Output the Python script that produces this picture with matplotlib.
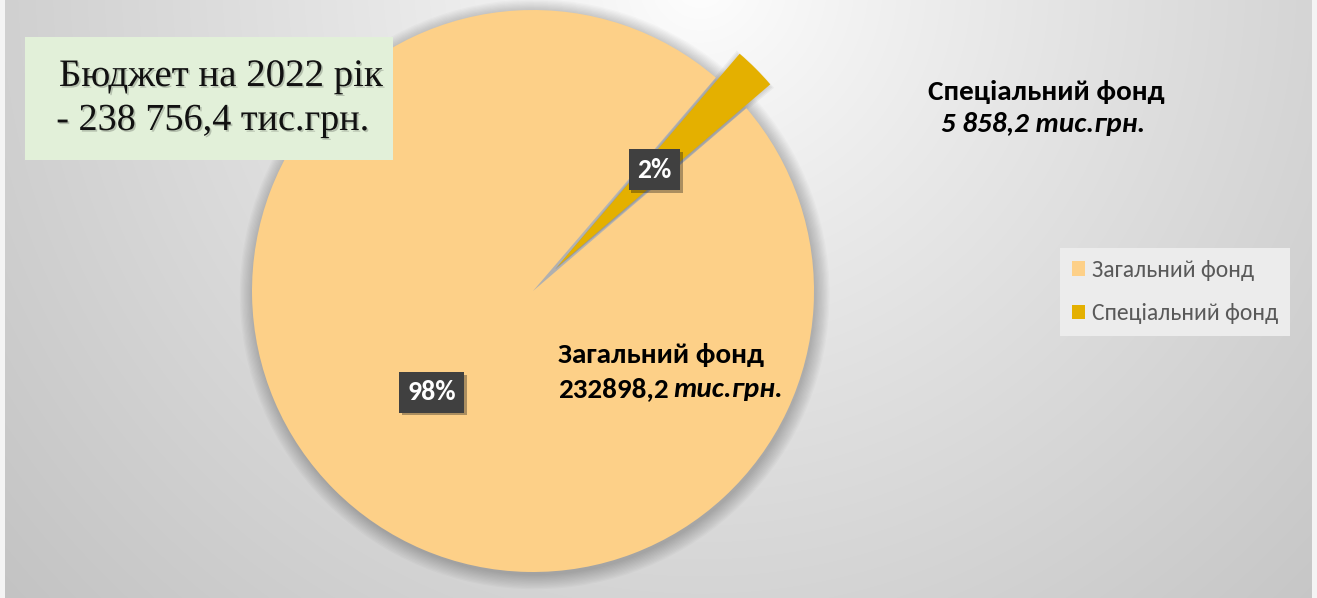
import numpy as np
import matplotlib
matplotlib.use('Agg')
import matplotlib.pyplot as plt
from matplotlib.patches import Circle, Wedge, Rectangle
import matplotlib.patheffects as pe
from matplotlib import font_manager as fm

# ---------------- data ----------------
categories = ['Загальний фонд', 'Спеціальний фонд']
values = [232898.2, 5858.2]
value_labels = ['232898,2', '5 858,2']
unit = 'тис.грн.'
title_lines = ['Бюджет на 2022 рік', '- 238 756,4 тис.грн.']
colors = ['#FDD088', '#E4B000']

W, H = 1317, 598
fig = plt.figure(figsize=(W / 100, H / 100), dpi=100)


def px(x, y):
    return x / W, 1 - y / H


def pick_family(cands):
    for f in cands:
        try:
            pb = fm.findfont(fm.FontProperties(family=f, weight='bold'), fallback_to_default=False)
            pbi = fm.findfont(fm.FontProperties(family=f, weight='bold', style='italic'),
                              fallback_to_default=False)
        except Exception:
            continue
        if 'bold' in pb.lower() and 'italic' in pbi.lower():
            return f
    return 'DejaVu Sans'


sans = pick_family(['Carlito', 'Noto Sans', 'Open Sans', 'Roboto', 'Liberation Sans', 'DejaVu Sans'])
fam = [sans, 'DejaVu Sans']

# ---------------- background gradient ----------------
bg = fig.add_axes([0, 0, 1, 1])
yy, xx = np.mgrid[0:H, 0:W]
d = np.hypot(xx - 700, yy + 20)
g = 255 - 56 * np.clip(d / 860, 0, 1.3) ** 0.85
img = np.clip(np.dstack([g, g, g]), 0, 255).astype(np.uint8)
bg.imshow(img, extent=[0, W, H, 0], aspect='auto', interpolation='bilinear')
bg.add_patch(Rectangle((0, 0), 5, H, color='#F4F4F4', lw=0))
bg.add_patch(Rectangle((W - 5, 0), 5, H, color='#F4F4F4', lw=0))
bg.set_xlim(0, W)
bg.set_ylim(H, 0)
bg.axis('off')

# ---------------- pie ----------------
cx, cy, R = 533, 291, 281
ax = fig.add_axes([(cx - R) / W, (H - cy - R) / H, 2 * R / W, 2 * R / H])
total = sum(values)
fracs = [v / total for v in values]
start = 45 - 360 * (fracs[0] + fracs[1] / 2)
explode = [0, 0.12]

# soft shadow under the pie body
for i in range(12):
    ax.add_patch(Circle((0.006, -0.012), 1 + 0.0045 * i, color='k', alpha=0.02, lw=0, zorder=0,
                        clip_on=False))

wedges, _ = ax.pie(values, colors=colors, startangle=start, explode=explode, radius=1,
                   wedgeprops=dict(linewidth=0), normalize=True)
for w in wedges:
    w.set_clip_on(False)
    w.set_zorder(2)

# shadow of the exploded wedge
w1 = wedges[1]
for i in range(4):
    sh = Wedge((w1.center[0] - 0.006, w1.center[1] - 0.008), 1 + 0.004 * i,
               w1.theta1 - 0.3 * i, w1.theta2 + 0.3 * i, color='k', alpha=0.04, lw=0,
               zorder=1.5, clip_on=False)
    ax.add_patch(sh)

ax.set_xlim(-1, 1)
ax.set_ylim(-1, 1)
ax.axis('off')

# percent labels
label_r = [0.51, 0.61]
for w, f, r in zip(wedges, fracs, label_r):
    ang = np.deg2rad((w.theta1 + w.theta2) / 2)
    t = ax.text(r * np.cos(ang), r * np.sin(ang), f'{round(f * 100)}%', ha='center', va='center',
                color='white', fontsize=20, fontweight='bold', family=fam, zorder=5,
                bbox=dict(boxstyle='square,pad=0.3', fc='#404040', ec='none'))
    t.get_bbox_patch().set_path_effects([pe.SimplePatchShadow(offset=(2, -2), alpha=0.35), pe.Normal()])

LBL = 21
# name label of the general fund
x0, y1, y2 = px(558, 0)[0], px(0, 363)[1], px(0, 397)[1]
fig.text(x0, y1, categories[0], ha='left', va='baseline', fontsize=LBL, fontweight='bold',
         family=fam, color='black')
t_num = fig.text(x0, y2, value_labels[0], ha='left', va='baseline', fontsize=LBL, fontweight='bold',
                 family=fam, color='black')
fig.canvas.draw()
bb = t_num.get_window_extent()
fig.text((bb.x1 + 5) / W, y2, unit, ha='left', va='baseline', fontsize=LBL, fontweight='bold',
         fontstyle='italic', family=fam, color='black')

# name label of the special fund
fig.text(px(1046, 0)[0], px(0, 100)[1], categories[1], ha='center', va='baseline', fontsize=LBL,
         fontweight='bold', family=fam, color='black')
fig.text(px(1043, 0)[0], px(0, 132)[1], f'{value_labels[1]} {unit}', ha='center', va='baseline',
         fontsize=LBL, fontweight='bold', fontstyle='italic', family=fam, color='black')

# title box (figure-level so it sits above the pie)
fig.add_artist(Rectangle(px(25, 160), 368 / W, 123 / H, transform=fig.transFigure,
                         fc='#E2F0D9', ec='none', zorder=2))
shadow = [pe.SimplePatchShadow(offset=(1.2, -1.2), alpha=0.2), pe.Normal()]
serif = ['Liberation Serif', 'DejaVu Serif']
fig.text(px(221, 0)[0], px(0, 86)[1], title_lines[0], ha='center', va='baseline', fontsize=28,
         family=serif, color='#111111', path_effects=shadow, zorder=3)
fig.text(px(213, 0)[0], px(0, 130)[1], title_lines[1], ha='center', va='baseline', fontsize=27.5,
         family=serif, color='#111111', path_effects=shadow, zorder=3)

# legend
leg = fig.legend(wedges, categories, loc='upper left', bbox_to_anchor=px(1060, 248),
                 frameon=True, facecolor='#ECECEC', edgecolor='none', fancybox=False, framealpha=1,
                 labelcolor='#595959', prop={'family': fam, 'size': 17},
                 handlelength=0.55, handleheight=0.55, handletextpad=0.3, labelspacing=0.95,
                 borderpad=0.5, borderaxespad=0)

fig.savefig('out.png', dpi=100)
